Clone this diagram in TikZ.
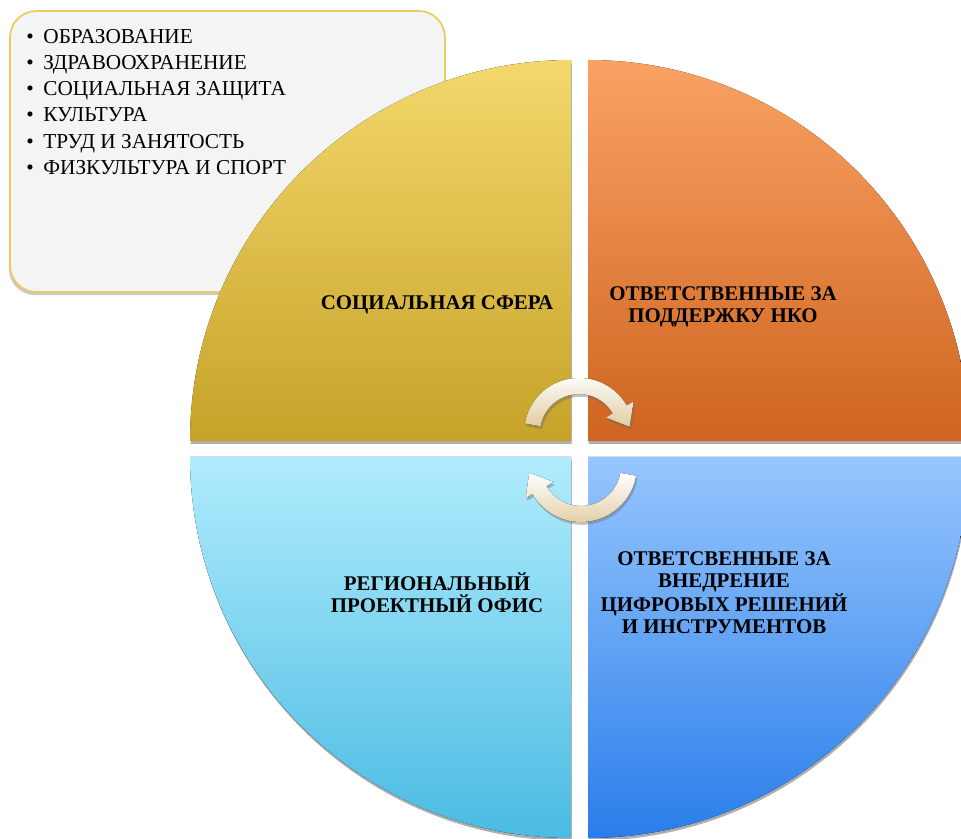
\documentclass[tikz,border=0pt]{standalone}
\usepackage{fontspec}
\setmainfont{Liberation Serif}
\usepackage{xcolor}
\usepackage{tikz}
\usetikzlibrary{calc,shadows}

\definecolor{socTop}{HTML}{F4D86C}
\definecolor{socBot}{HTML}{C6A228}
\definecolor{nkoTop}{HTML}{F9A263}
\definecolor{nkoBot}{HTML}{CE6420}
\definecolor{offTop}{HTML}{B0ECFD}
\definecolor{offBot}{HTML}{4ABBE2}
\definecolor{digTop}{HTML}{96C6FD}
\definecolor{digBot}{HTML}{2A7DEA}
\definecolor{boxFill}{HTML}{F4F4F4}
\definecolor{boxLine}{HTML}{EBCB5E}
\definecolor{arrowTan}{HTML}{E0CCA0}

\begin{document}
\begin{tikzpicture}[x=0.02cm, y=0.02cm,
    sector/.style={drop shadow={shadow xshift=0.4pt, shadow yshift=-1.6pt, opacity=0.45, fill=black!70}},
    listbox/.style={draw=boxLine, line width=1pt, fill=boxFill, rounded corners=15pt,
      drop shadow={shadow xshift=-0.6pt, shadow yshift=-1.8pt, opacity=0.35, fill=black!60}},
    listtext/.style={font=\fontsize{12.1}{14.9}\selectfont, align=left, inner sep=0pt, anchor=north west},
    qtext/.style={font=\fontsize{11.9}{12.5}\selectfont\bfseries, align=center, text=black},
    cyclearrow/.style={top color=white, bottom color=arrowTan,
      drop shadow={shadow xshift=0.8pt, shadow yshift=-1.6pt, opacity=0.4, fill=black!60}}]

    \useasboundingbox (0,0) rectangle (961,839);
    \clip (0,0) rectangle (961,839);

    % box with the list of areas
    \path[listbox] (10,547) rectangle (445,828);
    \node[listtext] (areas) at (26,810) {%
      \textbullet\hspace{5.5pt}ОБРАЗОВАНИЕ\\
      \textbullet\hspace{5.5pt}ЗДРАВООХРАНЕНИЕ\\
      \textbullet\hspace{5.5pt}СОЦИАЛЬНАЯ ЗАЩИТА\\
      \textbullet\hspace{5.5pt}КУЛЬТУРА\\
      \textbullet\hspace{5.5pt}ТРУД И ЗАНЯТОСТЬ\\
      \textbullet\hspace{5.5pt}ФИЗКУЛЬТУРА И СПОРТ};

    % four quarters
    \fill[sector, top color=socTop, bottom color=socBot]
      (571,398) -- (190,398) arc[start angle=180, end angle=90, radius=381] -- cycle;
    \fill[sector, top color=nkoTop, bottom color=nkoBot]
      (588,398) -- (588,779) arc[start angle=90, end angle=0, radius=381] -- cycle;
    \fill[sector, top color=offTop, bottom color=offBot]
      (571,382) -- (571,1) arc[start angle=270, end angle=180, radius=381] -- cycle;
    \fill[sector, top color=digTop, bottom color=digBot]
      (588,382) -- (969,382) arc[start angle=0, end angle=-90, radius=381] -- cycle;

    % circular arrows
    \coordinate (topc) at (579,406);
    \coordinate (botc) at (581,373);
    \fill[cyclearrow] ($(topc)+(170:55)$) arc[start angle=170, end angle=30, radius=55]
      -- ($(topc)+(30:63)$) -- ($(topc)+(30:47)+(-60:20)$) -- ($(topc)+(30:31)$)
      -- ($(topc)+(30:39)$) arc[start angle=30, end angle=170, radius=39] -- cycle;
    \fill[cyclearrow] ($(botc)+(-10:56)$) arc[start angle=-10, end angle=-150, radius=56]
      -- ($(botc)+(210:64)$) -- ($(botc)+(210:48)+(120:20)$) -- ($(botc)+(210:32)$)
      -- ($(botc)+(210:40)$) arc[start angle=210, end angle=350, radius=40] -- cycle;

    % labels
    \node[qtext] (social) at (437,534) {СОЦИАЛЬНАЯ СФЕРА};
    \node[qtext] (nko) at (723,532) {ОТВЕТСТВЕННЫЕ ЗА\\ПОДДЕРЖКУ НКО};
    \node[qtext] (office) at (437,246) {РЕГИОНАЛЬНЫЙ\\ПРОЕКТНЫЙ ОФИС};
    \node[qtext] (digital) at (724,246) {ОТВЕТСВЕННЫЕ ЗА\\ВНЕДРЕНИЕ\\ЦИФРОВЫХ РЕШЕНИЙ\\И ИНСТРУМЕНТОВ};
\end{tikzpicture}
\end{document}
